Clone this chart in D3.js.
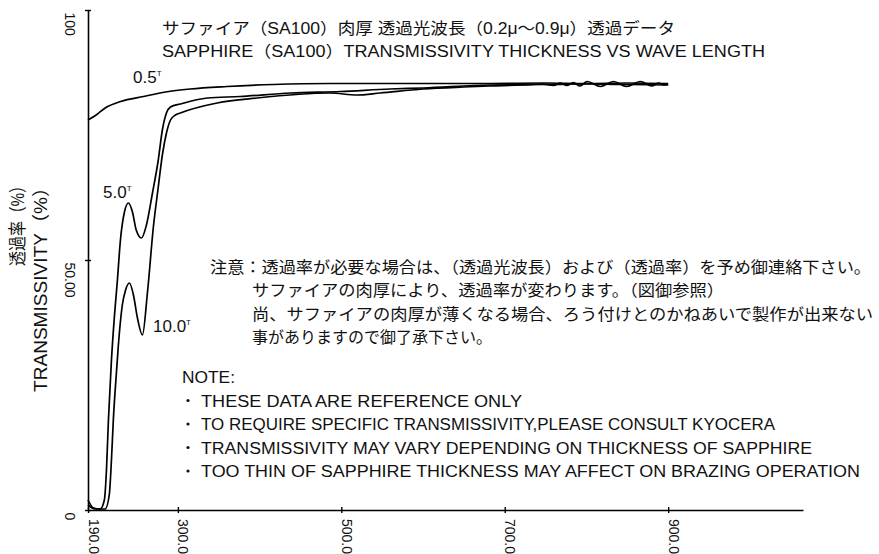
<!DOCTYPE html>
<html lang="ja">
<head>
<meta charset="UTF-8">
<title>SA100 transmissivity</title>
<script src="https://d3js.org/d3.v7.min.js"></script>
<style>
  body { margin: 0; background: #fff; }
  text { font-family: "Liberation Sans", "Noto Sans CJK JP", sans-serif; fill: #111; }
</style>
</head>
<body>
<svg id="chart" width="879" height="554"></svg>
<script>
// wavelength (nm) vs transmissivity (%)
const t05 = [[190,78],[200,79],[211,80.4],[230,81.7],[258,82.7],[285,83.6],[315,84.2],[360,84.7],[417,85.1],[486,85.3],[600,85.3],[682,85.3],[750,85.4],[800,85.3],[850,85.4],[900,85.3]];
const t50 = [[190,2],[196.7,0.4],[205,0.2],[210,2],[212.6,8],[215,18],[218.7,30],[222,38],[226,46],[229.7,54],[234.6,59.6],[239.5,61.4],[244.4,59.6],[249,56],[255.4,54.4],[261.5,57],[268.9,63.4],[276,70],[281,76],[286,79.4],[291,80.6],[303,81.2],[336,82.4],[376,82.7],[437.6,83.4],[498.7,83.7],[559.7,84.2],[600,84.4],[682,85],[750,85.1],[800,85.2],[850,85.1],[900,85.0]];
const t100 = [[190,1],[199,0.2],[211,0.2],[216,3],[218.7,10],[221,18],[225,28],[227,32.6],[232,41],[236,44],[240.7,45.4],[245.6,43],[250.5,38.4],[256.6,35],[262.7,43.4],[270,56.6],[276,64.6],[281,71],[286,75.4],[291,78],[297,79],[303,79.4],[348,81.4],[397,82.4],[486,83.4],[519,83],[547.6,83.4],[600,84.2],[650,84.6],[682,84.8],[720,85.0],[745,85.2],[760,84.9],[768,85.4],[776,84.9],[784,85.5],[792,84.8],[801,85.7],[817,84.7],[833,85.7],[849,84.7],[866,85.7],[880,84.8],[888,85.4],[895,85.0],[900,85.2]];

const xTicks = [190, 300, 500, 700, 900];
const yTicks = [0, 50, 100];
const yTickLabels = ["0", "50.00", "100"];

const titleLines = [
  "サファイア（SA100）肉厚 透過光波長（0.2μ～0.9μ）透過データ",
  "SAPPHIRE（SA100）TRANSMISSIVITY THICKNESS VS WAVE LENGTH"
];
const noteJa = [
  "注意：透過率が必要な場合は、（透過光波長）および（透過率）を予め御連絡下さい。",
  "サファイアの肉厚により、透過率が変わります。（図御参照）",
  "尚、サファイアの肉厚が薄くなる場合、ろう付けとのかねあいで製作が出来ない",
  "事がありますので御了承下さい。"
];
const noteHead = "NOTE:";
const noteItems = [
  "THESE DATA ARE REFERENCE ONLY",
  "TO REQUIRE SPECIFIC TRANSMISSIVITY,PLEASE CONSULT KYOCERA",
  "TRANSMISSIVITY MAY VARY DEPENDING ON THICKNESS OF SAPPHIRE",
  "TOO THIN OF SAPPHIRE THICKNESS MAY AFFECT ON BRAZING OPERATION"
];
const series = [
  { name: "0.5", data: t05, lx: 133, ly: 83 },
  { name: "5.0", data: t50, lx: 103, ly: 198 },
  { name: "10.0", data: t100, lx: 153, ly: 332 }
];

const svg = d3.select("#chart");
const x = d3.scaleLinear().domain([190, 1065]).range([88, 803]);
const y = d3.scaleLinear().domain([0, 100]).range([510, 10]);

// x axis
const gx = svg.append("g").attr("transform", "translate(0,510)")
  .call(d3.axisBottom(x).tickValues(xTicks).tickFormat(d3.format(".1f")).tickSizeOuter(0));
gx.select(".domain").attr("stroke", "#000").attr("stroke-width", 1.6);
gx.selectAll(".tick line").attr("y1", -3).attr("y2", 3).attr("stroke-width", 1.4);
gx.selectAll(".tick text")
  .attr("transform", "translate(0,9) rotate(90)")
  .attr("x", 0).attr("y", 0).attr("dy", null)
  .attr("text-anchor", "start")
  .style("font-size", "14px")
  .style("font-family", "Liberation Sans");

// y axis
const gy = svg.append("g").attr("transform", "translate(88,0)")
  .call(d3.axisLeft(y).tickValues(yTicks).tickFormat((d, i) => yTickLabels[i]).tickSizeOuter(0));
gy.select(".domain").attr("stroke", "#000").attr("stroke-width", 1.6);
gy.selectAll(".tick line").attr("x1", -3).attr("x2", 3).attr("stroke-width", 1.4);
gy.selectAll(".tick text")
  .attr("transform", "translate(-23,2) rotate(90)")
  .attr("x", 0).attr("y", 0).attr("dy", null)
  .attr("text-anchor", "start")
  .style("font-size", "14px")
  .style("font-family", "Liberation Sans");

// curves
const line = d3.line().x(d => x(d[0])).y(d => y(d[1])).curve(d3.curveMonotoneX);
svg.append("g").selectAll("path").data(series).join("path")
  .attr("d", d => line(d.data))
  .attr("fill", "none")
  .attr("stroke", "#000")
  .attr("stroke-width", 1.7);

const labels = svg.append("g").selectAll("text").data(series).join("text")
  .attr("x", d => d.lx).attr("y", d => d.ly)
  .style("font-size", "17px");
labels.append("tspan").text(d => d.name);
labels.append("tspan").text("T").style("font-size", "8px").attr("dy", -7);

// title
svg.append("g").selectAll("text").data(titleLines).join("text")
  .attr("x", 162).attr("y", (d, i) => 34 + i * 23)
  .attr("textLength", (d, i) => [513, 603][i])
  .attr("lengthAdjust", "spacingAndGlyphs")
  .style("font-size", "16px")
  .text(d => d);

// y axis titles
svg.append("text")
  .attr("transform", "translate(24,266) rotate(-90)")
  .attr("textLength", 88).attr("lengthAdjust", "spacingAndGlyphs")
  .style("font-size", "18px")
  .text("透過率（%）");
svg.append("text")
  .attr("transform", "translate(47,392) rotate(-90)")
  .attr("textLength", 214).attr("lengthAdjust", "spacingAndGlyphs")
  .style("font-size", "18px")
  .text("TRANSMISSIVITY（%）");

// Japanese note
const jaX = [210, 252, 252, 252];
const jaLen = [661, 472, 621, 240];
svg.append("g").selectAll("text").data(noteJa).join("text")
  .attr("x", (d, i) => jaX[i]).attr("y", (d, i) => 273 + i * 23.3)
  .attr("textLength", (d, i) => jaLen[i])
  .attr("lengthAdjust", "spacingAndGlyphs")
  .style("font-size", "16px")
  .text(d => d);

// English note
svg.append("text")
  .attr("x", 182).attr("y", 383)
  .attr("textLength", 53).attr("lengthAdjust", "spacingAndGlyphs")
  .style("font-size", "16px")
  .text(noteHead);
const enLen = [321, 574, 611, 659];
const items = svg.append("g").selectAll("g").data(noteItems).join("g")
  .attr("transform", (d, i) => `translate(0,${406.5 + i * 23.5})`);
items.append("circle").attr("cx", 188).attr("cy", -6).attr("r", 1.6).attr("fill", "#111");
items.append("text")
  .attr("x", 201).attr("y", 0)
  .attr("textLength", (d, i) => enLen[i])
  .attr("lengthAdjust", "spacingAndGlyphs")
  .style("font-size", "16px")
  .text(d => d);
</script>
</body>
</html>
